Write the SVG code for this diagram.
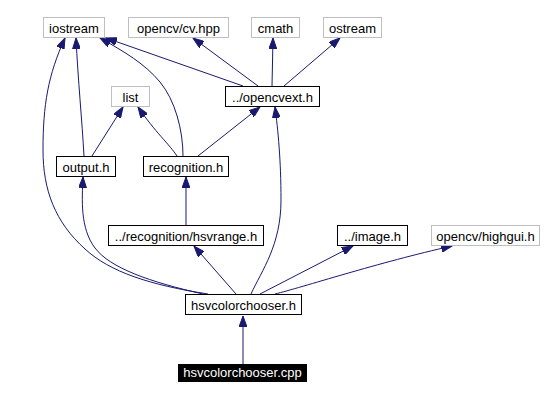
<svg xmlns="http://www.w3.org/2000/svg" width="548" height="401" viewBox="0 0 548 401">
<defs>
<style>
.n rect{fill:#fff;stroke:#000;stroke-width:1}
.s rect{fill:#fff;stroke:#bfbfbf;stroke-width:1}
text{font-family:"Liberation Sans",Arial,sans-serif;font-size:13px;text-anchor:middle;fill:#000}
.root rect{fill:#000;stroke:none}
.root text{fill:#fff}
.e path{fill:none;stroke:#191970;stroke-width:1;marker-end:url(#ah)}
</style>
<marker id="ah" markerUnits="userSpaceOnUse" markerWidth="12" markerHeight="8" refX="11" refY="4" orient="auto">
<path d="M0,0 L11,4 L0,8 z" fill="#191970" stroke="#191970" stroke-width="1"/>
</marker>
</defs>
<rect width="548" height="401" fill="#fff"/>
<g class="e" id="edges">
<path d="M243,364 L243,316"/>
<path d="M208,294 C150,285 110,272 85,249 C55,222 43,190 43,150 C43,105 48,75 65,38"/>
<path d="M203,294 C150,282 110,268 95,248 C80,228 82,200 83,177"/>
<path d="M236,294 L194,246"/>
<path d="M251,294 C262,270 281,245 281,200 C281,160 278,130 275,107"/>
<path d="M260,294 L353,246"/>
<path d="M275,294 C300,288 380,262 452,246"/>
<path d="M186,225 L186,177"/>
<path d="M84,156 C82,120 78,80 76,38"/>
<path d="M92,156 L123,107"/>
<path d="M177,156 C170,145 155,132 138,107"/>
<path d="M183,156 C183,130 175,100 160,82 C145,64 125,52 100,38"/>
<path d="M198,156 L260,107"/>
<path d="M243,86 L106,38"/>
<path d="M258,86 L193,38"/>
<path d="M272,86 L273,38"/>
<path d="M284,86 L340,38"/>
</g>
<g class="s" id="iostream"><rect x="43.5" y="17.5" width="61" height="20"/><text x="74" y="33">iostream</text></g>
<g class="s" id="opencv_cv"><rect x="128.5" y="17.5" width="100" height="20"/><text x="178.5" y="33">opencv/cv.hpp</text></g>
<g class="s" id="cmath"><rect x="251.5" y="17.5" width="48" height="20"/><text x="275.5" y="33">cmath</text></g>
<g class="s" id="ostream"><rect x="323.5" y="17.5" width="58" height="20"/><text x="352.5" y="33">ostream</text></g>
<g class="s" id="list"><rect x="111.5" y="86.5" width="38" height="20"/><text x="130.5" y="102">list</text></g>
<g class="n" id="opencvext"><rect x="225.5" y="86.5" width="94" height="20"/><text x="272.5" y="102">../opencvext.h</text></g>
<g class="n" id="output"><rect x="56.5" y="156.5" width="59" height="20"/><text x="86" y="172">output.h</text></g>
<g class="n" id="recognition"><rect x="143.5" y="156.5" width="85" height="20"/><text x="186" y="172">recognition.h</text></g>
<g class="n" id="hsvrange"><rect x="108.5" y="225.5" width="155" height="20"/><text x="186" y="241">../recognition/hsvrange.h</text></g>
<g class="n" id="image"><rect x="337.5" y="225.5" width="70" height="20"/><text x="372.5" y="241">../image.h</text></g>
<g class="s" id="highgui"><rect x="431.5" y="225.5" width="108" height="20"/><text x="485.5" y="241">opencv/highgui.h</text></g>
<g class="n" id="hsvcolorchooser_h"><rect x="185.5" y="294.5" width="116" height="20"/><text x="243.5" y="310">hsvcolorchooser.h</text></g>
<g class="root" id="hsvcolorchooser_cpp"><rect x="178" y="364" width="129" height="18"/><text x="242.5" y="377">hsvcolorchooser.cpp</text></g>
</svg>
